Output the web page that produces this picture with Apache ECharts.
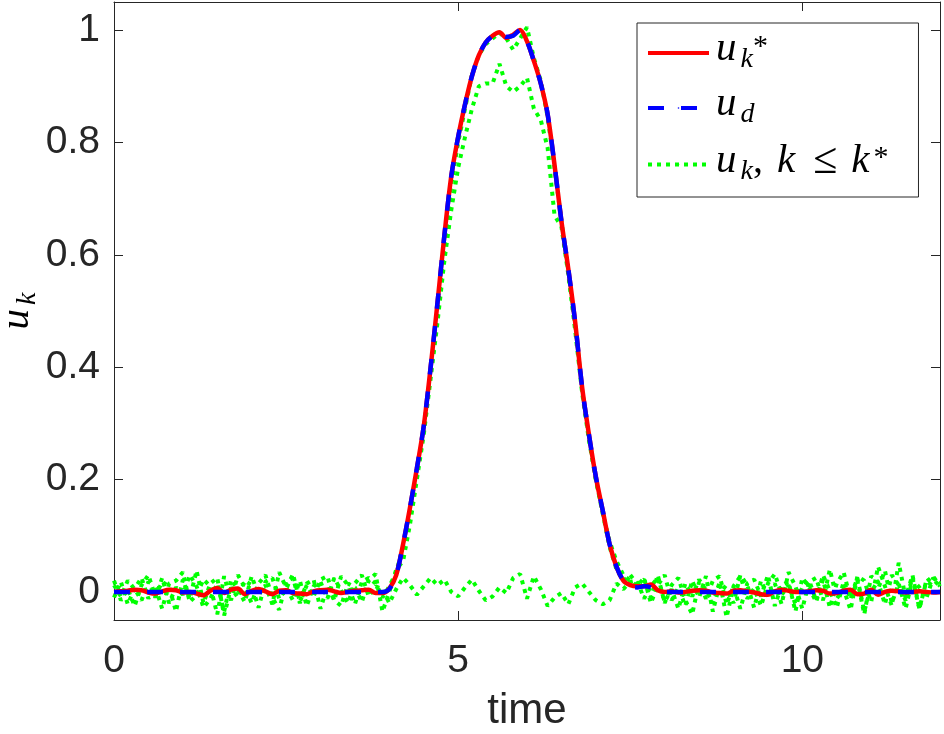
<!DOCTYPE html>
<html>
<head>
<meta charset="utf-8">
<script src="https://cdn.jsdelivr.net/npm/echarts@6/dist/echarts.min.js"></script>
<style>
    html, body {margin: 0; padding: 0; background: #fff;}
    #main {width: 944px; height: 734px;}
</style>
</head>
<body>
<div id="main"></div>
<script>
// sampling step of all series (time, s)
const dt = 0.1

// desired input u_d
const uDesired = [
    0, 0, 0, 0, 0, 0, 0, 0, 0, 0,
    0, 0, 0, 0, 0, 0, 0, 0, 0, 0,
    0, 0, 0, 0, 0, 0, 0, 0, 0, 0,
    0, 0, 0, 0, 0, 0, 0, 0, 0, 0.0,
    0.005, 0.03, 0.085, 0.15, 0.22, 0.295, 0.4, 0.515, 0.635, 0.74,
    0.81, 0.868, 0.918, 0.955, 0.978, 0.99, 0.996, 0.988, 0.99, 1.0,
    0.98, 0.945, 0.905, 0.85, 0.76, 0.66, 0.575, 0.48, 0.365, 0.28,
    0.205, 0.145, 0.085, 0.045, 0.02, 0.01, 0.008, 0.01, 0.008, 0.002,
    0, 0, 0, 0, 0, 0, 0, 0, 0, 0,
    0, 0, 0, 0, 0, 0, 0, 0, 0, 0,
    0, 0, 0, 0, 0, 0, 0, 0, 0, 0,
    0, 0, 0, 0, 0, 0, 0, 0, 0, 0,
    0
]

// final iterate u_{k*}
const uFinal = [
    0.0, 0.001, 0.002, 0.004, 0.003, -0.001, -0.003, 0.001, 0.004, 0.003,
    -0.001, 0.0, -0.003, -0.006, 0.002, 0.007, -0.002, 0.004, 0.006, -0.004,
    0.002, 0.005, 0.001, -0.004, 0.002, 0.003, -0.002, -0.003, -0.004, 0.001,
    0.003, 0.004, 0.001, -0.002, 0.0, 0.002, 0.003, 0.004, -0.002, -0.002,
    0.006, 0.03, 0.085, 0.15, 0.22, 0.295, 0.4, 0.515, 0.635, 0.74,
    0.81, 0.868, 0.918, 0.955, 0.978, 0.99, 0.996, 0.986, 0.992, 1.0,
    0.98, 0.945, 0.905, 0.85, 0.76, 0.66, 0.575, 0.48, 0.365, 0.28,
    0.205, 0.145, 0.085, 0.045, 0.02, 0.012, 0.01, 0.01, 0.013, 0.003,
    0.0, 0.001, -0.001, 0.0, 0.002, 0.003, 0.002, -0.001, -0.002, -0.003,
    0.002, 0.003, 0.001, -0.001, -0.004, -0.005, 0.001, 0.004, 0.002, 0.0,
    0.0, 0.001, 0.003, 0.002, -0.003, -0.002, 0.002, 0.004, -0.004, -0.003,
    0.004, -0.005, 0.0, 0.002, 0.001, -0.001, 0.0, 0.001, 0.0, -0.001,
    0.0
]

// earlier iterates u_k, k <= k*
const uIter1 = [
    0.012, -0.008, 0.02, 0.005, -0.015, 0.018, -0.01, 0.025, -0.02, 0.008,
    -0.005, 0.03, 0.01, -0.028, -0.012, 0.015, -0.035, 0.022, 0.004, -0.018,
    0.028, -0.006, 0.012, -0.022, 0.035, 0.008, -0.015, 0.02, -0.025, 0.01,
    0.018, -0.012, 0.025, 0.002, -0.02, 0.015, 0.03, -0.008, 0.01, 0.005,
    -0.02, 0.005, 0.025, 0.012, -0.005, 0.01, 0.025, 0.012, 0.022, 0.0,
    -0.008, 0.008, 0.022, 0.002, -0.015, -0.008, 0.008, -0.002, 0.025, 0.032,
    -0.012, 0.028, 0.005, -0.025, -0.01, -0.002, -0.022, 0.008, 0.015, 0.0,
    -0.015, -0.022, -0.015, 0.015, 0.005, 0.018,
    0.02, -0.012, 0.01, 0.025, -0.018, 0.005, -0.03, 0.015, -0.008, 0.022,
    0.003, -0.02, 0.018, -0.045, 0.01, 0.028, -0.012, 0.006, -0.025, 0.015,
    0.032, -0.005, 0.012, -0.022, 0.008, 0.02, -0.015, 0.03, 0.002, -0.028,
    0.018, -0.01, 0.025, -0.035, 0.012, 0.005, 0.038, -0.02, 0.015, -0.03,
    0.022, 0.008, -0.012, 0.025, 0.015
]
const uIter2 = [
    -0.01, 0.018, -0.022, 0.006, 0.025, -0.012, 0.01, -0.03, 0.015, 0.02,
    0.035, -0.018, -0.005, 0.022, 0.01, -0.04, 0.028, -0.015, 0.03, 0.008,
    -0.02, 0.015, 0.03, -0.01, -0.032, 0.018, 0.025, -0.02, 0.012, -0.008,
    0.022, 0.028, -0.015, -0.025, 0.015, 0.008, -0.018, 0.02, 0.032, -0.035,
    0.0, 0.04, 0.055, 0.12, 0.2, 0.28, 0.38, 0.48, 0.59, 0.68,
    0.755, 0.81, 0.86, 0.9, 0.905, 0.905, 0.94, 0.9, 0.89, 0.9,
    0.915, 0.86, 0.84, 0.79, 0.67, 0.65, 0.565, 0.465, 0.355, 0.27,
    0.2, 0.14, 0.09, 0.055, 0.03, 0.02,
    0.01, 0.025, -0.02, 0.012, 0.03, -0.015, 0.008, -0.025, 0.02, -0.01,
    0.028, -0.035, 0.015, 0.005, -0.02, 0.03, 0.012, -0.028, 0.02, -0.008,
    0.015, -0.022, 0.035, 0.01, -0.03, 0.018, 0.025, -0.015, 0.04, -0.012,
    0.005, -0.032, 0.028, 0.02, -0.018, 0.045, 0.01, -0.025, 0.052, -0.01,
    0.03, -0.03, 0.018, 0.028, 0.01
]
const uIter3 = [
    0.02, -0.015, 0.005, -0.025, 0.012, 0.03, -0.008, 0.018, 0.01, -0.035,
    0.022, -0.012, 0.038, -0.02, 0.015, 0.025, -0.042, 0.008, -0.01, 0.02,
    0.012, -0.028, 0.018, 0.025, -0.012, 0.005, 0.032, -0.018, 0.015, 0.022,
    -0.03, 0.01, -0.015, 0.028, 0.012, -0.022, 0.018, 0.025, 0.015, -0.01,
    0.01, 0.035, 0.08, 0.14, 0.21, 0.29, 0.39, 0.5, 0.615, 0.725,
    0.8, 0.86, 0.92, 0.955, 0.975, 0.985, 0.995, 0.985, 0.965, 0.985,
    1.005, 0.95, 0.91, 0.845, 0.755, 0.66, 0.57, 0.475, 0.36, 0.275,
    0.2, 0.14, 0.08, 0.04, 0.02, 0.03,
    0.015, 0.022, -0.01, 0.03, -0.02, 0.012, 0.025, -0.015, -0.04, 0.018,
    -0.012, 0.02, 0.028, -0.022, 0.01, -0.03, 0.015, 0.022, -0.008, 0.03,
    -0.025, 0.012, 0.018, -0.035, 0.025, 0.008, -0.018, 0.022, -0.028, 0.015,
    0.035, -0.012, 0.02, -0.04, 0.028, 0.018, -0.022, 0.03, 0.012, -0.015,
    0.025, -0.03, 0.02, 0.01, 0.022
]

const xTicks = [0, 5, 10]
const yTicks = [0, 0.2, 0.4, 0.6, 0.8, 1]

const axisColor = '#262626'
const labelFont = 'Liberation Sans'
const mathFont = 'Liberation Serif'

// rich text pieces for the LaTeX-like labels
const mathRich = {
    u: {fontFamily: mathFont, fontStyle: 'italic', fontSize: 41, lineHeight: 42, padding: [0, 4, 7, 0], color: '#000'},
    s: {fontFamily: mathFont, fontStyle: 'italic', fontSize: 28, lineHeight: 30, verticalAlign: 'bottom', color: '#000'},
    c: {fontFamily: mathFont, fontSize: 40, lineHeight: 42, padding: [0, 14, 7, 0], color: '#000'},
    le: {fontFamily: mathFont, fontSize: 44, lineHeight: 42, padding: [0, 14, 7, 14], color: '#000'},
    p: {fontFamily: mathFont, fontSize: 30, lineHeight: 30, verticalAlign: 'top', color: '#000'}
}
const legendText = {
    uks: '{u|u}{s|k}{p|*}',
    ud: '{u|u}{s|d}',
    uk: '{u|u}{s|k}{c|,}{u|k}{le|≤}{u|k}{p|*}'
}

function toPairs(arr) {
    return arr.map((v, i) => [+(i * dt).toFixed(2), v])
}

let chart = echarts.init(document.getElementById('main'), null, {renderer: 'canvas'})

const greenStyle = {color: '#00ff00', width: 4, type: [4, 5], cap: 'butt'}

// box axes (MATLAB "box on"): lines at the frame, ticks pointing inward
const boxLine = {onZero: false, lineStyle: {color: axisColor, width: 1}}
const boxTick = {inside: true, length: 9, lineStyle: {color: axisColor}}

const option = {
    backgroundColor: '#fff',
    animation: false,
    grid: {left: 114, right: 4, top: 2, bottom: 114, containLabel: false, outerBoundsMode: 'none'},
    xAxis: [{
        type: 'value',
        min: 0,
        max: 12,
        interval: 5,
        name: 'time',
        nameLocation: 'middle',
        nameGap: 70,
        nameTextStyle: {fontFamily: labelFont, fontSize: 42, color: axisColor},
        axisLine: boxLine,
        axisTick: boxTick,
        axisLabel: {
            fontFamily: labelFont, fontSize: 39, color: axisColor, margin: 22,
            showMaxLabel: false,
            formatter: v => xTicks.includes(v) ? String(v) : ''
        },
        splitLine: {show: false}
    }, {
        type: 'value',
        position: 'top',
        min: 0,
        max: 12,
        interval: 5,
        axisLine: boxLine,
        axisTick: boxTick,
        axisLabel: {show: false},
        splitLine: {show: false}
    }],
    yAxis: [{
        type: 'value',
        min: -0.05,
        max: 1.05,
        splitNumber: 5,
        name: '{u|u}{s|k}',
        nameLocation: 'middle',
        nameGap: 72,
        nameMoveOverlap: false,
        nameRotate: 90,
        nameTextStyle: {rich: mathRich},
        axisLine: boxLine,
        axisTick: boxTick,
        axisLabel: {
            fontFamily: labelFont, fontSize: 39, color: axisColor, margin: 14,
            showMinLabel: false,
            showMaxLabel: false,
            formatter: v => {
                const hit = yTicks.find(t => Math.abs(t - v) < 1e-6)
                return hit === undefined ? '' : String(hit)
            }
        },
        splitLine: {show: false}
    }, {
        type: 'value',
        position: 'right',
        min: -0.05,
        max: 1.05,
        splitNumber: 5,
        axisLine: boxLine,
        axisTick: boxTick,
        axisLabel: {show: false},
        splitLine: {show: false}
    }],
    legend: {
        orient: 'vertical',
        left: 637,
        top: 23,
        data: ['uks', 'ud', 'uk'],
        backgroundColor: '#fff',
        borderColor: axisColor,
        borderWidth: 1,
        borderRadius: 0,
        padding: [6, 30, 7, 9],
        itemWidth: 61,
        itemHeight: 2,
        itemGap: 7,
        lineStyle: {width: 4},
        formatter: name => legendText[name],
        textStyle: {rich: mathRich, padding: [0, 0, 0, 2]}
    },
    series: [
        {name: 'uk', type: 'line', data: toPairs(uIter1), symbol: 'none', lineStyle: greenStyle, itemStyle: {color: '#00ff00'}},
        {name: 'uk', type: 'line', data: toPairs(uIter2), symbol: 'none', lineStyle: greenStyle, itemStyle: {color: '#00ff00'}},
        {name: 'uk', type: 'line', data: toPairs(uIter3), symbol: 'none', lineStyle: greenStyle, itemStyle: {color: '#00ff00'}},
        {
            name: 'uks', type: 'line', data: toPairs(uFinal), symbol: 'none', smooth: 0.3,
            lineStyle: {color: '#ff0000', width: 4.5},
            itemStyle: {color: '#ff0000'}
        },
        {
            name: 'ud', type: 'line', data: toPairs(uDesired), symbol: 'none', smooth: 0.3,
            lineStyle: {color: '#0000ff', width: 4.5, type: [16, 17]},
            itemStyle: {color: '#0000ff'}
        }
    ]
}
chart.setOption(option)
window.addEventListener('resize', () => {
    chart.resize()
})
</script>
</body>
</html>
